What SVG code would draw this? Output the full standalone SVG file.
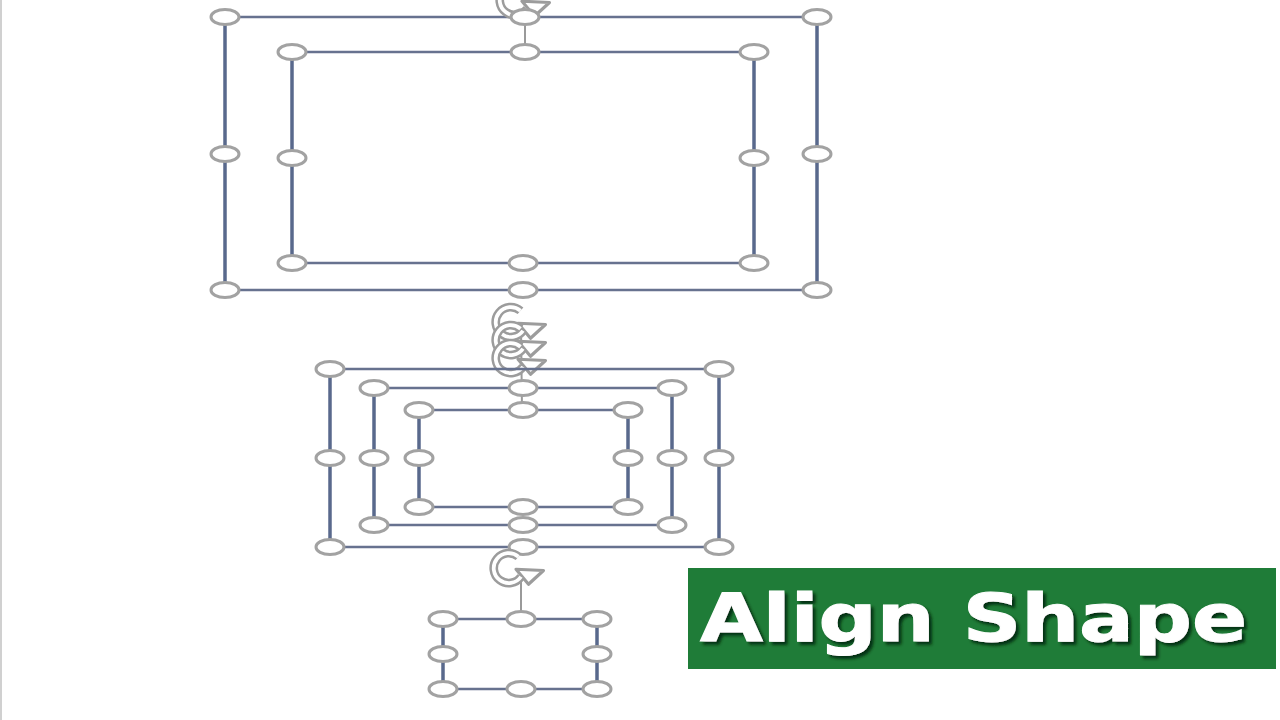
<svg xmlns="http://www.w3.org/2000/svg" xmlns:xlink="http://www.w3.org/1999/xlink" width="1280" height="720" viewBox="0 0 1280 720">
<style>
.h{stroke:#67728f;stroke-width:2.5;fill:none}
.v{stroke:#59698c;stroke-width:3.5;fill:none}
.hd{fill:#ffffff;stroke:#a2a2a2;stroke-width:3}
.ln{stroke:#9a9a9a;stroke-width:2}
.ro{fill:none;stroke:#9c9c9c;stroke-width:7}
.ri{fill:none;stroke:#ffffff;stroke-width:3}
.lbl{font-family:"DejaVu Sans",Verdana,sans-serif;font-weight:bold;font-size:66px}
</style>
<defs>
<g id="rot">
<g transform="scale(1.25)">
<path class="ro" d="M 2 -9 A 12 12 0 1 0 4 7"/>
<path d="M 0 1 L 22 2 L 10 13 Z" fill="#ffffff" stroke="#9c9c9c" stroke-width="2.5" stroke-linejoin="round"/>
<path class="ri" d="M 2 -9 A 12 12 0 1 0 4 7"/>
</g>
</g>
<filter id="sh" x="-5%" y="-20%" width="110%" height="140%">
<feDropShadow dx="3" dy="3" stdDeviation="1.5" flood-color="#06280e" flood-opacity="0.9"/>
</filter>
</defs>
<rect width="1280" height="720" fill="#ffffff"/>
<line x1="1" y1="0" x2="1" y2="720" stroke="#d0d0d0" stroke-width="2"/>

<g id="connectors">
<line class="ln" x1="525" y1="8" x2="525" y2="52"/>
<line class="ln" x1="521" y1="328" x2="522" y2="410"/>
<line class="ln" x1="521" y1="575" x2="521" y2="619"/>
</g>

<g id="outer-large">
<line class="h" x1="225" y1="17" x2="817" y2="17"/>
<line class="h" x1="225" y1="290" x2="817" y2="290"/>
<line class="v" x1="225" y1="17" x2="225" y2="290"/>
<line class="v" x1="817" y1="17" x2="817" y2="290"/>
</g>
<g id="rot-top"><use xlink:href="#rot" href="#rot" x="522" y="0"/></g>
<g id="outer-large-handles">
<ellipse class="hd" cx="225" cy="17" rx="14" ry="7.5"/>
<ellipse class="hd" cx="525" cy="17" rx="14" ry="7.5"/>
<ellipse class="hd" cx="817" cy="17" rx="14" ry="7.5"/>
<ellipse class="hd" cx="225" cy="154" rx="14" ry="7.5"/>
<ellipse class="hd" cx="817" cy="154" rx="14" ry="7.5"/>
<ellipse class="hd" cx="225" cy="290" rx="14" ry="7.5"/>
<ellipse class="hd" cx="523" cy="290" rx="14" ry="7.5"/>
<ellipse class="hd" cx="817" cy="290" rx="14" ry="7.5"/>
</g>

<g id="inner-large">
<line class="h" x1="292" y1="52" x2="754" y2="52"/>
<line class="h" x1="292" y1="263" x2="754" y2="263"/>
<line class="v" x1="292" y1="52" x2="292" y2="263"/>
<line class="v" x1="754" y1="52" x2="754" y2="263"/>
<ellipse class="hd" cx="292" cy="52" rx="14" ry="7.5"/>
<ellipse class="hd" cx="525" cy="52" rx="14" ry="7.5"/>
<ellipse class="hd" cx="754" cy="52" rx="14" ry="7.5"/>
<ellipse class="hd" cx="292" cy="158" rx="14" ry="7.5"/>
<ellipse class="hd" cx="754" cy="158" rx="14" ry="7.5"/>
<ellipse class="hd" cx="292" cy="263" rx="14" ry="7.5"/>
<ellipse class="hd" cx="523" cy="263" rx="14" ry="7.5"/>
<ellipse class="hd" cx="754" cy="263" rx="14" ry="7.5"/>
</g>

<g id="rot-stack">
<use xlink:href="#rot" href="#rot" x="518" y="322"/>
<use xlink:href="#rot" href="#rot" x="518" y="340"/>
<use xlink:href="#rot" href="#rot" x="518" y="358"/>
</g>

<g id="mid-outer">
<line class="h" x1="330" y1="369" x2="719" y2="369"/>
<line class="h" x1="330" y1="547" x2="719" y2="547"/>
<line class="v" x1="330" y1="369" x2="330" y2="547"/>
<line class="v" x1="719" y1="369" x2="719" y2="547"/>
</g>
<g id="mid-middle">
<line class="h" x1="374" y1="388" x2="672" y2="388"/>
<line class="h" x1="374" y1="525" x2="672" y2="525"/>
<line class="v" x1="374" y1="388" x2="374" y2="525"/>
<line class="v" x1="672" y1="388" x2="672" y2="525"/>
</g>
<g id="mid-inner">
<line class="h" x1="419" y1="410" x2="628" y2="410"/>
<line class="h" x1="419" y1="507" x2="628" y2="507"/>
<line class="v" x1="419" y1="410" x2="419" y2="507"/>
<line class="v" x1="628" y1="410" x2="628" y2="507"/>
</g>
<g id="mid-handles">
<ellipse class="hd" cx="330" cy="369" rx="14" ry="7.5"/>
<ellipse class="hd" cx="719" cy="369" rx="14" ry="7.5"/>
<ellipse class="hd" cx="330" cy="458" rx="14" ry="7.5"/>
<ellipse class="hd" cx="719" cy="458" rx="14" ry="7.5"/>
<ellipse class="hd" cx="330" cy="547" rx="14" ry="7.5"/>
<ellipse class="hd" cx="523" cy="547" rx="14" ry="7.5"/>
<ellipse class="hd" cx="719" cy="547" rx="14" ry="7.5"/>
<ellipse class="hd" cx="374" cy="388" rx="14" ry="7.5"/>
<ellipse class="hd" cx="523" cy="388" rx="14" ry="7.5"/>
<ellipse class="hd" cx="672" cy="388" rx="14" ry="7.5"/>
<ellipse class="hd" cx="374" cy="458" rx="14" ry="7.5"/>
<ellipse class="hd" cx="672" cy="458" rx="14" ry="7.5"/>
<ellipse class="hd" cx="374" cy="525" rx="14" ry="7.5"/>
<ellipse class="hd" cx="523" cy="525" rx="14" ry="7.5"/>
<ellipse class="hd" cx="672" cy="525" rx="14" ry="7.5"/>
<ellipse class="hd" cx="419" cy="410" rx="14" ry="7.5"/>
<ellipse class="hd" cx="523" cy="410" rx="14" ry="7.5"/>
<ellipse class="hd" cx="628" cy="410" rx="14" ry="7.5"/>
<ellipse class="hd" cx="419" cy="458" rx="14" ry="7.5"/>
<ellipse class="hd" cx="628" cy="458" rx="14" ry="7.5"/>
<ellipse class="hd" cx="419" cy="507" rx="14" ry="7.5"/>
<ellipse class="hd" cx="523" cy="507" rx="14" ry="7.5"/>
<ellipse class="hd" cx="628" cy="507" rx="14" ry="7.5"/>
</g>

<g id="rot-bottom"><use xlink:href="#rot" href="#rot" x="516" y="568"/></g>

<g id="small">
<line class="h" x1="443" y1="619" x2="597" y2="619"/>
<line class="h" x1="443" y1="689" x2="597" y2="689"/>
<line class="v" x1="443" y1="619" x2="443" y2="689"/>
<line class="v" x1="597" y1="619" x2="597" y2="689"/>
<ellipse class="hd" cx="443" cy="619" rx="14" ry="7.5"/>
<ellipse class="hd" cx="521" cy="619" rx="14" ry="7.5"/>
<ellipse class="hd" cx="597" cy="619" rx="14" ry="7.5"/>
<ellipse class="hd" cx="443" cy="654" rx="14" ry="7.5"/>
<ellipse class="hd" cx="597" cy="654" rx="14" ry="7.5"/>
<ellipse class="hd" cx="443" cy="689" rx="14" ry="7.5"/>
<ellipse class="hd" cx="521" cy="689" rx="14" ry="7.5"/>
<ellipse class="hd" cx="597" cy="689" rx="14" ry="7.5"/>
</g>

<g id="label">
<rect x="688" y="568" width="588" height="101" fill="#1f7c38"/>
<text class="lbl" x="700" y="641" fill="#ffffff" stroke="#ffffff" stroke-width="1" textLength="547" lengthAdjust="spacingAndGlyphs" filter="url(#sh)">Align Shape</text>
</g>
</svg>
